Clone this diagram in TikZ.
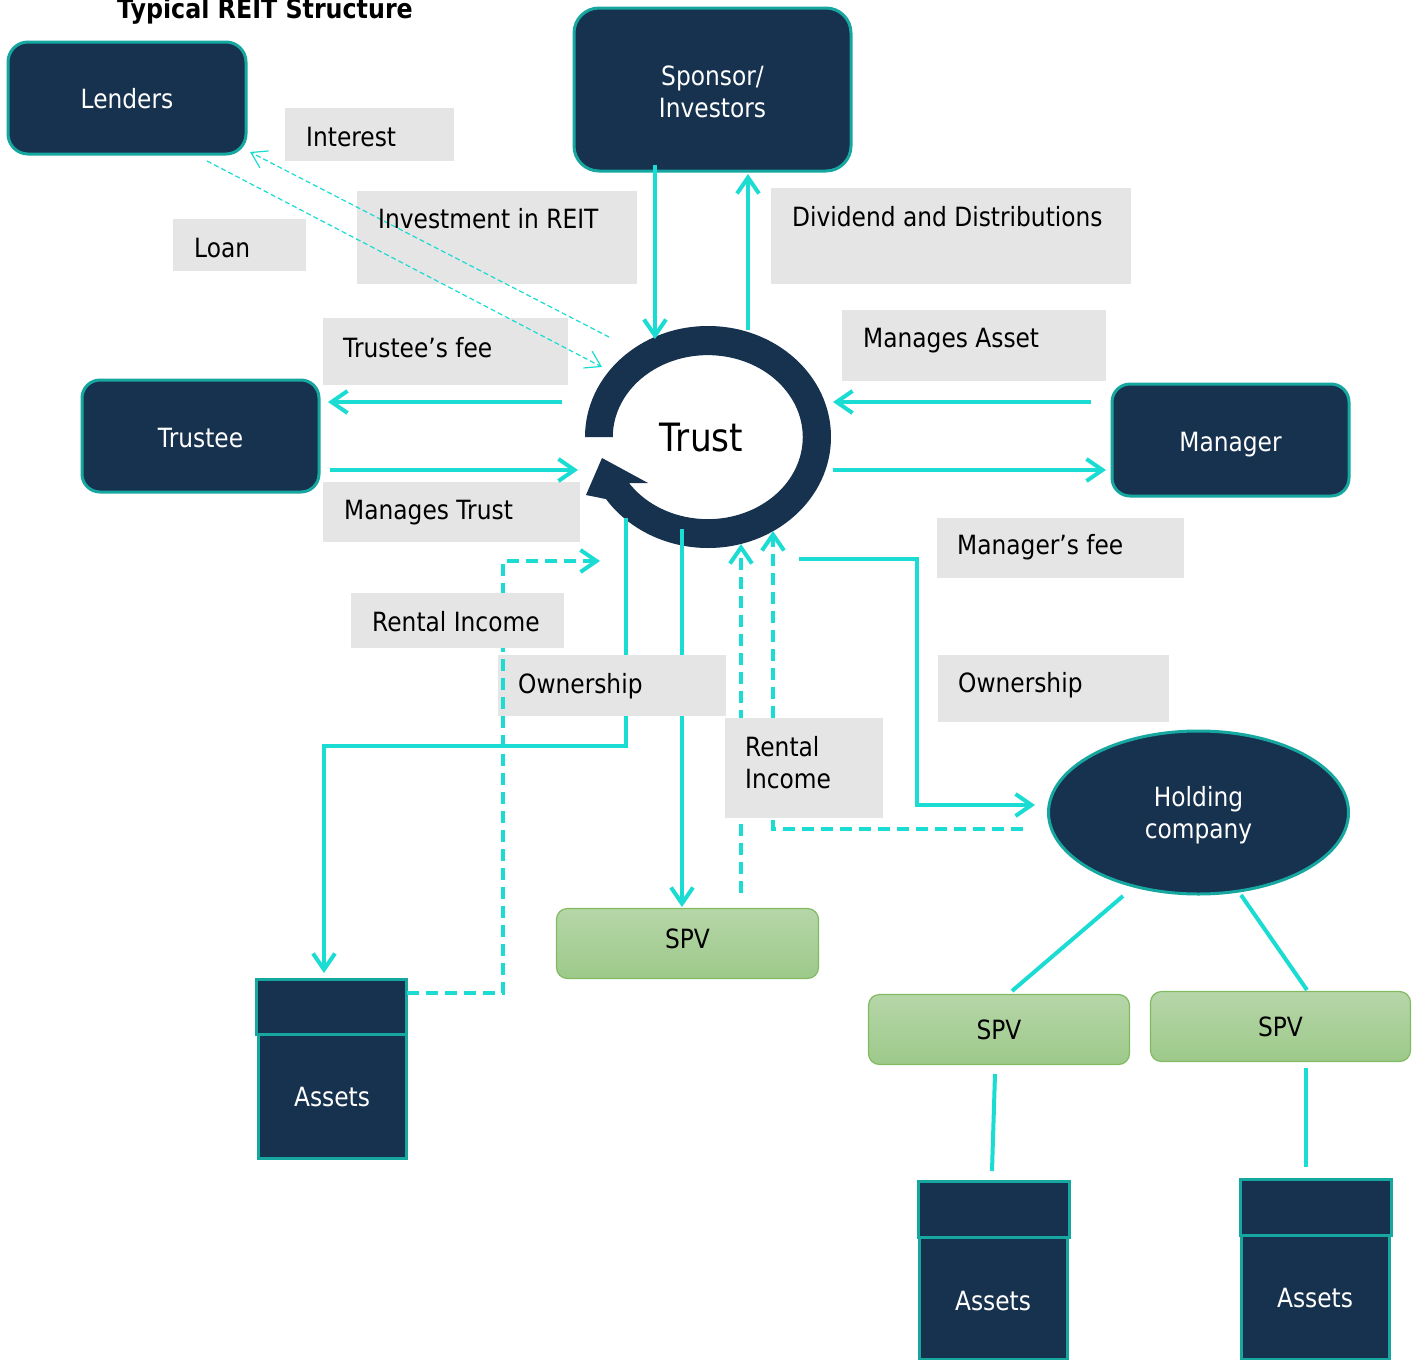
\documentclass[tikz,border=0pt]{standalone}
\usepackage{fontspec}
\setmainfont{DejaVu Sans}[FakeStretch=0.88]
\usetikzlibrary{arrows.meta,shapes.geometric}
\definecolor{navy}{HTML}{17324E}
\definecolor{tealb}{HTML}{16A7A0}
\definecolor{cyanl}{HTML}{1ADCD3}
\definecolor{greyl}{HTML}{E5E5E5}
\definecolor{spvtop}{HTML}{B6D6A8}
\definecolor{spvbot}{HTML}{9DC98A}
\definecolor{spvb}{HTML}{82BA62}
\tikzset{
  boxfont/.style={font=\fontsize{26.5}{32}\selectfont},
  darkbox/.style={draw=tealb, fill=navy, line width=3pt, text=white, boxfont,
    inner sep=0pt, text height=20pt, text depth=0pt},
  darkshape/.style={draw=tealb, fill=navy, line width=3pt, inner sep=0pt},
  whitetext/.style={text=white, boxfont, inner sep=0pt, align=center},
  greybox/.style={fill=greyl, inner sep=0pt, anchor=north west, draw=none},
  lbl/.style={anchor=base west, inner sep=0pt, text=black, font=\fontsize{26.5}{32}\selectfont},
  spvbox/.style={draw=spvb, line width=1.2pt, top color=spvtop, bottom color=spvbot,
    rounded corners=11pt, inner sep=0pt, boxfont, text height=20pt, text depth=0pt},
  assettop/.style={draw=tealb, fill=navy, line width=3pt, inner sep=0pt},
  assetbot/.style={draw=tealb, fill=navy, line width=3pt, inner sep=0pt, text=white,
    boxfont, text height=20pt, text depth=0pt},
  flow/.style={draw=cyanl, line width=4pt, -{Straight Barb[length=16pt,width=22pt]}},
  flowdash/.style={flow, dash pattern=on 12pt off 7pt},
  thinflow/.style={draw=cyanl, line width=1.2pt, dash pattern=on 5pt off 3pt,
    -{Straight Barb[length=15pt,width=19pt]}},
  link/.style={draw=cyanl, line width=4pt},
}
\begin{document}
\begin{tikzpicture}[x=1pt,y=-1pt]
\useasboundingbox (0,0) rectangle (1417,1360);
\fill[white] (0,0) rectangle (1417,1360);

% grey label boxes (background ones)
\node[greybox, minimum width=169pt, minimum height=53pt] (gInt) at (285,108) {};
\node[greybox, minimum width=133pt, minimum height=52pt] (gLoan) at (173,219) {};
\node[greybox, minimum width=280pt, minimum height=93pt] (gInv) at (357,191) {};
\node[greybox, minimum width=245pt, minimum height=67pt] (gTfee) at (323,318) {};
\node[greybox, minimum width=360pt, minimum height=96pt] (gDiv) at (771,188) {};
\node[greybox, minimum width=264pt, minimum height=71pt] (gMA) at (842,310) {};
\node[greybox, minimum width=257pt, minimum height=60pt] (gMT) at (323,482) {};
\node[greybox, minimum width=247pt, minimum height=60pt] (gMfee) at (937,518) {};
\node[greybox, minimum width=231pt, minimum height=67pt] (gOwnR) at (938,655) {};

% dark boxes
\node[darkbox, rounded corners=20pt, minimum width=238pt, minimum height=112pt] (lenders) at (127,98) {Lenders};
\node[darkshape, rounded corners=25pt, minimum width=277pt, minimum height=163pt] (spons) at (712.5,89.5) {};
\node[whitetext] (sponsT) at (712.5,91.5) {Sponsor/\\Investors};
\node[darkbox, rounded corners=18pt, minimum width=237pt, minimum height=112pt, text height=22pt] (trustee) at (200.5,436) {Trustee};
\node[darkbox, rounded corners=18pt, minimum width=237pt, minimum height=112pt, text height=22pt] (manager) at (1230.5,440) {Manager};
\node[darkshape, ellipse, minimum width=300pt, minimum height=163pt] (hold) at (1198.5,812.5) {};
\node[whitetext] (holdT) at (1198.5,815.5) {Holding\\company};

% SPVs
\node[spvbox, minimum width=262pt, minimum height=70pt, text height=10pt] (spvM) at (687.5,943.5) {SPV};
\node[spvbox, minimum width=261pt, minimum height=70pt] (spvL) at (999,1029.5) {SPV};
\node[spvbox, minimum width=260pt, minimum height=70pt] (spvR) at (1280.5,1026.5) {SPV};

% Assets
\node[assettop, minimum width=150pt, minimum height=55pt] (aAt) at (331,1006.5) {};
\node[assetbot, minimum width=148pt, minimum height=124pt] (aA) at (332,1096) {Assets};
\node[assettop, minimum width=151pt, minimum height=56pt] (aBt) at (993.5,1209) {};
\node[assetbot, minimum width=148pt, minimum height=122pt, text height=24pt] (aB) at (993,1298) {Assets};
\node[assettop, minimum width=151pt, minimum height=56pt] (aCt) at (1315.5,1207) {};
\node[assetbot, minimum width=148pt, minimum height=124pt] (aC) at (1315,1297) {Assets};

% Trust ring
\fill[navy] (585,437) arc[start angle=180,end angle=506,x radius=123,y radius=111]
  -- (586,495) -- (602,458) -- (648,483) -- (629,483)
  arc[start angle=506,end angle=180,x radius=95,y radius=82] -- cycle;
\node[inner sep=0pt, anchor=base, font=\fontsize{39}{44}\selectfont] (trust) at (701.5,451) {Trust};

% solid connectors
\coordinate (s1) at (655,165); \coordinate (t1) at (655,339);
\draw[flow] (s1) -- (t1);
\coordinate (t2) at (748,330); \coordinate (s2) at (748,174);
\draw[flow] (t2) -- (s2);
\coordinate (t3) at (562,402); \coordinate (r3) at (328,402);
\draw[flow] (t3) -- (r3);
\coordinate (r4) at (330,470); \coordinate (t4) at (578,470);
\draw[flow] (r4) -- (t4);
\coordinate (m5) at (1091,402); \coordinate (t5) at (833,402);
\draw[flow] (m5) -- (t5);
\coordinate (t6) at (833,470); \coordinate (m6) at (1106,470);
\draw[flow] (t6) -- (m6);
\coordinate (t7) at (609,337); \coordinate (l7) at (250,152);
\draw[thinflow] (t7) -- (l7);
\coordinate (l8) at (207,161); \coordinate (t8) at (602,367);
\draw[thinflow] (l8) -- (t8);
\coordinate (t9) at (626,518); \coordinate (a9) at (324,973);
\draw[flow] (t9) -- (626,746) -- (324,746) -- (a9);
\coordinate (t10) at (682,529); \coordinate (v10) at (682,907);
\draw[flow] (t10) -- (v10);
\coordinate (t11) at (799,559); \coordinate (h11) at (1035,805);
\draw[flow] (t11) -- (917,559) -- (917,805) -- (h11);
\coordinate (h12) at (1123,896); \coordinate (v12) at (1012,991);
\draw[link] (h12) -- (v12);
\coordinate (h13) at (1241,895); \coordinate (v13) at (1307,990);
\draw[link] (h13) -- (v13);
\coordinate (v14) at (995,1074); \coordinate (a14) at (992,1171);
\draw[link] (v14) -- (a14);
\coordinate (v15) at (1306,1068); \coordinate (a15) at (1306,1167);
\draw[link] (v15) -- (a15);

% Ownership (middle) box over solid lines
\node[greybox, minimum width=228pt, minimum height=61pt] (gOwnM) at (498,655) {};

% dashed connectors
\coordinate (a16) at (407,993); \coordinate (t16) at (600,561);
\draw[flowdash] (a16) -- (503,993) -- (503,561) -- (t16);
\coordinate (v17) at (741,893); \coordinate (t17) at (741,544);
\draw[flowdash] (v17) -- (t17);
\coordinate (h18) at (1023,829); \coordinate (t18) at (773,531);
\draw[flowdash] (h18) -- (773,829) -- (t18);

% boxes above dashed lines
\node[greybox, minimum width=213pt, minimum height=55pt] (gRentL) at (351,593) {};
\node[greybox, minimum width=158pt, minimum height=100pt] (gRentM) at (725,718) {};

% label texts
\node[lbl] (tInt) at (306,146) {Interest};
\node[lbl] (tLoan) at (194,257) {Loan};
\node[lbl] (tInv) at (378,228) {Investment in REIT};
\node[lbl] (tTfee) at (343,357) {Trustee’s fee};
\node[lbl] (tDiv) at (792,226) {Dividend and Distributions};
\node[lbl] (tMA) at (863,347) {Manages Asset};
\node[lbl] (tMT) at (344,519) {Manages Trust};
\node[lbl] (tMfee) at (957,554) {Manager’s fee};
\node[lbl] (tOwnR) at (958,692) {Ownership};
\node[lbl] (tOwnM) at (518,693) {Ownership};
\node[lbl] (tRentL) at (372,631) {Rental Income};
\node[lbl, anchor=north west, align=left] (tRentM) at (745,736) {Rental\\Income};

% title
\node[anchor=base, inner sep=0pt, font=\fontsize{27}{32}\selectfont\bfseries] (title) at (265,18) {Typical REIT Structure};
\end{tikzpicture}
\end{document}
